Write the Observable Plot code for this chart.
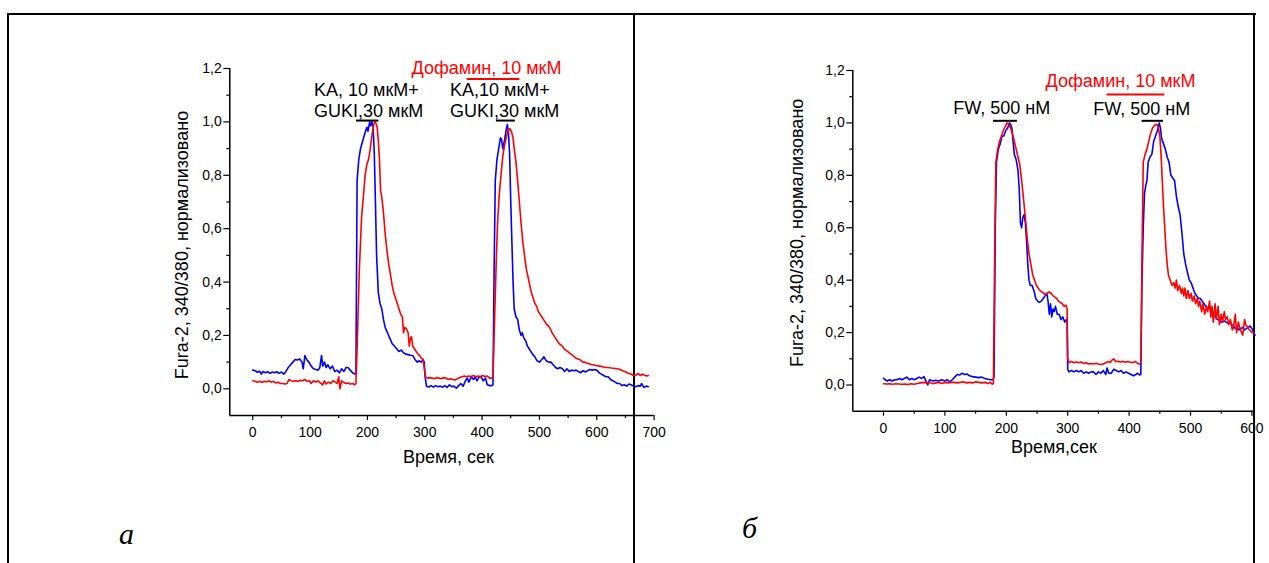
<!DOCTYPE html>
<html><head><meta charset="utf-8">
<script src="https://cdn.jsdelivr.net/npm/d3@7"></script>
<script src="https://cdn.jsdelivr.net/npm/@observablehq/plot@0.6"></script>
<style>
body{margin:0;background:#fff}
#root{position:relative;width:1269px;height:563px;overflow:hidden;background:#fff;font-family:"Liberation Sans",Arial,sans-serif}
.ln{position:absolute;background:#000}
.plot{position:absolute}
.lett{position:absolute;font-family:"Liberation Serif","Times New Roman",serif;font-style:italic;font-size:30px;line-height:1}
</style></head><body><div id="root"></div>
<script>
// ---- Data: panel "а" (KA + GUKI) ----
const aBlue = [[0,0.07],[4,0.068],[8,0.062],[12,0.066],[15,0.055],[18,0.065],[22,0.06],[26,0.064],[30,0.058],[34,0.063],[38,0.06],[42,0.064],[46,0.058],[50,0.063],[54,0.055],[58,0.065],[62,0.08],[66,0.09],[70,0.1],[74,0.11],[78,0.108],[82,0.112],[86,0.1],[88,0.075],[91,0.125],[94,0.11],[98,0.1],[102,0.085],[106,0.075],[110,0.072],[114,0.07],[117,0.08],[120,0.125],[122,0.085],[125,0.1],[128,0.08],[131,0.09],[135,0.075],[139,0.085],[143,0.065],[147,0.07],[151,0.06],[155,0.075],[159,0.065],[163,0.08],[166,0.08],[170,0.07],[174,0.06],[178,0.055],[180,0.06],[182,0.78],[185,0.86],[188,0.9],[192,0.93],[196,0.96],[199,0.98],[201,0.965],[204,1.0],[206,0.985],[208,1.0],[210,0.98],[212,0.88],[214,0.7],[216,0.5],[219,0.36],[222,0.32],[225,0.3],[228,0.26],[231,0.23],[235,0.21],[239,0.19],[243,0.17],[247,0.16],[251,0.15],[255,0.14],[259,0.145],[263,0.135],[267,0.13],[271,0.128],[275,0.126],[279,0.125],[283,0.11],[287,0.1],[290,0.105],[294,0.1],[297,0.11],[299,0.1],[301,0.04],[303,0.01],[307,0.007],[311,0.012],[315,0.006],[319,0.012],[323,0.008],[327,0.01],[331,0.006],[335,0.012],[339,0.005],[343,0.015],[347,0.008],[351,0.01],[355,0.002],[359,0.012],[363,0.02],[367,0.01],[371,0.03],[374,0.04],[377,0.025],[381,0.045],[385,0.035],[388,0.045],[391,0.03],[395,0.044],[398,0.045],[402,0.03],[406,0.04],[409,0.015],[413,0.012],[417,0.012],[419,0.015],[421,0.45],[423,0.78],[426,0.86],[429,0.9],[432,0.94],[434,0.935],[436,0.9],[439,0.93],[442,0.97],[444,0.99],[446,0.96],[448,0.88],[450,0.7],[452,0.55],[454,0.4],[456,0.3],[459,0.27],[462,0.26],[465,0.22],[468,0.2],[470,0.21],[473,0.19],[476,0.18],[479,0.16],[482,0.15],[485,0.14],[488,0.13],[492,0.12],[496,0.105],[500,0.1],[504,0.11],[508,0.12],[512,0.105],[516,0.1],[520,0.1],[524,0.09],[528,0.08],[532,0.075],[536,0.08],[540,0.075],[544,0.065],[548,0.075],[552,0.065],[556,0.07],[560,0.068],[564,0.07],[568,0.065],[572,0.06],[576,0.068],[580,0.063],[584,0.068],[588,0.072],[592,0.07],[596,0.072],[600,0.07],[604,0.06],[608,0.055],[612,0.05],[616,0.045],[620,0.045],[624,0.035],[628,0.03],[632,0.025],[636,0.02],[640,0.02],[644,0.012],[648,0.015],[652,0.01],[656,0.018],[660,0.015],[664,0.01],[668,0.008],[672,0.012],[676,0.01],[678,0.02],[682,0.005],[686,0.01],[690,0.008]];
const aRed = [[0,0.03],[4,0.028],[8,0.025],[12,0.028],[16,0.024],[20,0.028],[24,0.026],[28,0.03],[32,0.025],[36,0.028],[40,0.022],[44,0.025],[48,0.02],[52,0.02],[56,0.018],[60,0.02],[63,0.035],[67,0.03],[71,0.028],[75,0.03],[79,0.028],[83,0.032],[87,0.03],[91,0.035],[95,0.028],[99,0.03],[102,0.02],[106,0.03],[110,0.025],[114,0.03],[118,0.022],[122,0.015],[125,0.03],[128,0.018],[132,0.025],[136,0.02],[140,0.03],[144,0.025],[147,0.02],[150,0.045],[152,0.0],[155,0.03],[158,0.025],[162,0.02],[166,0.022],[170,0.018],[174,0.02],[178,0.015],[180,0.02],[182,0.15],[184,0.3],[186,0.45],[188,0.55],[190,0.65],[193,0.72],[196,0.8],[199,0.84],[202,0.86],[205,0.9],[208,0.95],[211,0.99],[213,1.0],[215,0.995],[217,0.98],[219,0.93],[221,0.86],[223,0.74],[225,0.72],[228,0.66],[231,0.58],[234,0.52],[237,0.47],[240,0.43],[243,0.39],[246,0.36],[249,0.34],[252,0.32],[255,0.3],[258,0.28],[261,0.27],[263,0.21],[265,0.23],[268,0.225],[271,0.21],[273,0.16],[275,0.19],[277,0.195],[279,0.16],[282,0.15],[285,0.14],[288,0.13],[291,0.125],[294,0.115],[297,0.11],[299,0.08],[301,0.045],[305,0.04],[309,0.042],[313,0.04],[317,0.038],[321,0.042],[325,0.04],[329,0.038],[333,0.042],[337,0.04],[341,0.035],[345,0.038],[349,0.035],[353,0.033],[357,0.038],[361,0.042],[365,0.045],[369,0.048],[373,0.045],[377,0.048],[381,0.046],[385,0.05],[389,0.045],[393,0.048],[397,0.045],[401,0.05],[405,0.046],[409,0.048],[413,0.04],[417,0.04],[419,0.04],[421,0.2],[423,0.35],[425,0.5],[427,0.62],[430,0.73],[433,0.8],[436,0.87],[439,0.91],[442,0.94],[445,0.965],[448,0.975],[451,0.965],[454,0.94],[456,0.9],[459,0.85],[462,0.78],[465,0.7],[468,0.62],[471,0.55],[474,0.5],[477,0.45],[480,0.42],[483,0.39],[486,0.36],[489,0.34],[492,0.32],[495,0.31],[498,0.29],[501,0.28],[504,0.27],[507,0.26],[510,0.25],[513,0.24],[516,0.235],[519,0.225],[522,0.21],[525,0.2],[528,0.19],[531,0.18],[534,0.17],[537,0.165],[540,0.16],[543,0.15],[546,0.145],[549,0.14],[552,0.135],[555,0.13],[558,0.125],[561,0.12],[564,0.115],[567,0.112],[570,0.11],[573,0.105],[576,0.1],[579,0.1],[582,0.097],[585,0.095],[588,0.093],[591,0.09],[594,0.09],[597,0.088],[600,0.087],[605,0.085],[610,0.083],[615,0.08],[620,0.08],[625,0.078],[630,0.077],[635,0.075],[640,0.073],[645,0.068],[650,0.064],[655,0.058],[660,0.055],[664,0.05],[668,0.05],[672,0.058],[676,0.05],[680,0.055],[684,0.05],[688,0.048],[690,0.05]];

// ---- Data: panel "б" (FW) ----
const bBlue = [[0,0.025],[3,0.02],[6,0.015],[10,0.02],[14,0.015],[18,0.02],[22,0.02],[26,0.025],[30,0.02],[34,0.025],[38,0.03],[42,0.02],[46,0.025],[50,0.02],[54,0.025],[58,0.03],[62,0.025],[66,0.032],[70,0.01],[72,0.0],[75,0.02],[80,0.015],[85,0.018],[90,0.015],[95,0.02],[100,0.015],[104,0.02],[108,0.012],[112,0.02],[116,0.03],[120,0.04],[124,0.038],[128,0.045],[132,0.04],[136,0.042],[140,0.035],[145,0.032],[150,0.03],[155,0.028],[160,0.03],[165,0.025],[170,0.022],[175,0.02],[178,0.02],[180,0.03],[182,0.6],[184,0.85],[187,0.9],[190,0.92],[193,0.95],[196,0.95],[199,0.97],[202,0.98],[205,1.0],[207,0.995],[209,0.98],[211,0.93],[213,0.88],[216,0.86],[219,0.82],[221,0.75],[223,0.62],[225,0.6],[227,0.64],[229,0.65],[231,0.62],[233,0.55],[235,0.46],[237,0.4],[239,0.38],[242,0.38],[245,0.36],[248,0.33],[251,0.32],[254,0.315],[257,0.32],[260,0.33],[263,0.34],[266,0.35],[268,0.32],[270,0.27],[272,0.31],[274,0.26],[276,0.29],[278,0.28],[280,0.3],[283,0.27],[286,0.27],[289,0.25],[292,0.26],[295,0.24],[298,0.25],[299,0.24],[300,0.06],[302,0.05],[306,0.055],[310,0.05],[314,0.055],[318,0.05],[322,0.055],[326,0.045],[330,0.05],[334,0.045],[338,0.05],[342,0.05],[346,0.04],[350,0.05],[354,0.045],[358,0.055],[362,0.04],[364,0.065],[367,0.045],[371,0.045],[375,0.06],[379,0.055],[383,0.05],[387,0.055],[391,0.045],[395,0.05],[399,0.045],[403,0.04],[407,0.035],[411,0.04],[414,0.045],[417,0.038],[419,0.04],[421,0.4],[423,0.6],[425,0.73],[427,0.76],[429,0.78],[431,0.85],[434,0.87],[437,0.88],[440,0.93],[443,0.95],[446,0.97],[449,1.0],[451,0.98],[453,0.94],[456,0.92],[459,0.9],[462,0.87],[465,0.85],[468,0.8],[471,0.79],[474,0.78],[477,0.72],[480,0.68],[483,0.65],[486,0.58],[489,0.5],[492,0.46],[495,0.43],[498,0.4],[501,0.39],[504,0.37],[507,0.35],[510,0.34],[513,0.33],[516,0.33],[519,0.32],[522,0.31],[525,0.3],[528,0.29],[531,0.3],[534,0.28],[537,0.27],[540,0.265],[543,0.25],[546,0.25],[549,0.24],[552,0.24],[555,0.245],[558,0.24],[561,0.235],[564,0.24],[567,0.23],[570,0.225],[573,0.215],[576,0.22],[579,0.21],[582,0.215],[585,0.22],[588,0.21],[591,0.215],[594,0.22],[597,0.225],[600,0.215],[603,0.2],[605,0.19]];
const bRed = [[0,0.005],[5,0.004],[10,0.005],[15,0.003],[20,0.005],[25,0.004],[30,0.003],[35,0.004],[40,0.002],[45,0.005],[50,0.003],[55,0.006],[60,0.008],[65,0.01],[70,0.008],[75,0.01],[80,0.005],[85,0.008],[90,0.01],[95,0.006],[100,0.01],[105,0.008],[110,0.01],[115,0.01],[120,0.008],[125,0.01],[130,0.012],[135,0.008],[140,0.01],[145,0.008],[150,0.012],[155,0.01],[160,0.008],[165,0.01],[170,0.006],[174,0.01],[177,0.003],[179,0.006],[181,0.5],[183,0.85],[186,0.9],[189,0.93],[192,0.95],[195,0.97],[198,0.985],[201,1.0],[204,0.995],[207,0.98],[210,0.96],[213,0.93],[216,0.9],[219,0.87],[222,0.84],[225,0.78],[228,0.71],[231,0.64],[234,0.56],[237,0.5],[240,0.46],[243,0.42],[246,0.4],[249,0.38],[252,0.37],[255,0.36],[258,0.355],[261,0.35],[264,0.345],[267,0.35],[270,0.355],[273,0.35],[276,0.34],[279,0.335],[282,0.33],[285,0.32],[288,0.315],[291,0.31],[294,0.3],[297,0.305],[299,0.29],[300,0.1],[302,0.085],[306,0.09],[310,0.085],[314,0.088],[318,0.085],[322,0.088],[326,0.082],[330,0.085],[334,0.08],[338,0.082],[342,0.08],[346,0.083],[350,0.08],[354,0.078],[358,0.08],[362,0.085],[366,0.09],[369,0.085],[372,0.095],[375,0.1],[378,0.09],[382,0.09],[386,0.088],[390,0.09],[394,0.087],[398,0.09],[402,0.087],[406,0.085],[410,0.09],[414,0.082],[417,0.08],[419,0.085],[421,0.5],[423,0.85],[426,0.88],[429,0.9],[432,0.93],[435,0.96],[438,0.98],[441,0.99],[444,0.995],[447,0.99],[450,0.95],[452,0.88],[454,0.78],[456,0.68],[458,0.6],[460,0.52],[462,0.46],[464,0.42],[467,0.4],[470,0.38],[473,0.39],[475,0.37],[477,0.4],[479,0.36],[482,0.38],[485,0.35],[487,0.37],[489,0.34],[491,0.37],[493,0.33],[496,0.36],[498,0.33],[501,0.35],[503,0.32],[506,0.34],[508,0.31],[511,0.33],[513,0.3],[515,0.32],[518,0.28],[520,0.31],[523,0.27],[526,0.3],[528,0.28],[531,0.32],[533,0.26],[535,0.3],[537,0.24],[540,0.31],[542,0.25],[545,0.3],[547,0.23],[550,0.27],[552,0.24],[555,0.28],[557,0.25],[560,0.26],[562,0.23],[565,0.25],[568,0.21],[570,0.22],[573,0.27],[575,0.2],[578,0.24],[580,0.22],[583,0.2],[585,0.19],[588,0.25],[590,0.23],[593,0.22],[596,0.21],[600,0.2],[603,0.2]];

// ---- Ticks and labels ----
const xTicksA = [0,100,200,300,400,500,600,700];
const xMinorA = [50,150,250,350,450,550,650];
const xTicksB = [0,100,200,300,400,500,600];
const xMinorB = [50,150,250,350,450,550];
const yTicks = [0,0.2,0.4,0.6,0.8,1.0,1.2];
const yMinor = [0.1,0.3,0.5,0.7,0.9,1.1];
const yLabel = "Fura-2, 340/380, нормализовано";
const xLabelA = "Время, сек";
const xLabelB = "Время,сек";
const textsA = ["KA, 10 мкМ+","GUKI,30 мкМ","KA,10 мкМ+","GUKI,30 мкМ","Дофамин, 10 мкМ"];
const textsB = ["FW, 500 нМ","FW, 500 нМ","Дофамин, 10 мкМ"];
// stimulus intervals (s)
const stimA = [[181,220],[425,458]];
const dopaA = [374,466];
const stimB = [[179,218],[421,456]];
const dopaB = [364,458];

const root = document.getElementById("root");
function line(l,t,w,h){const d=document.createElement("div");d.className="ln";Object.assign(d.style,{left:l+"px",top:t+"px",width:w+"px",height:h+"px"});root.appendChild(d);}
line(7,13,1249,2); line(7,13,2,560); line(633,13,2,560); line(1253,13,2,560);

const fmt = d => d.toFixed(1).replace(".", ",");
const FONT = "'Liberation Sans', Arial, sans-serif";

function panel(cfg){
  const txt = cfg.textPos.map((p,i)=>({x:p[0], y:p[1], s:cfg.texts[i], c:p[2]}));
  const p = Plot.plot({
    width: cfg.width, height: cfg.height,
    marginLeft: cfg.ml, marginRight: cfg.mr, marginTop: cfg.mt, marginBottom: cfg.mb,
    x: {domain: cfg.xDomain}, y: {domain: [-0.1, 1.2]},
    style: {fontFamily: FONT, fontSize: "14px", color: "#000", background: "transparent", overflow: "visible"},
    marks: [
      Plot.axisX({ticks: cfg.xTicks, tickSize: 5, tickPadding: 7, tickFormat: d => String(d), label: null, strokeWidth: 1.2}),
      Plot.axisX({ticks: cfg.xMinor, tickSize: 3, tickFormat: () => "", label: null, strokeWidth: 1.2}),
      Plot.axisY({ticks: yTicks, tickSize: 6, tickPadding: 2, tickFormat: fmt, label: null, strokeWidth: 1.2}),
      Plot.axisY({ticks: yMinor, tickSize: 3, tickFormat: () => "", label: null, strokeWidth: 1.2}),
      Plot.ruleX([cfg.xDomain[0]], {stroke: "#000", strokeWidth: 1.5}),
      Plot.ruleY([-0.1], {stroke: "#000", strokeWidth: 1.5}),
      Plot.line(cfg.blue, {x: d => d[0], y: d => d[1], stroke: "#0000ff", strokeWidth: 1.6, strokeLinejoin: "round"}),
      Plot.line(cfg.red, {x: d => d[0], y: d => d[1], stroke: "#ff0000", strokeWidth: 1.6, strokeLinejoin: "round"}),
      Plot.ruleY(cfg.stim, {x1: d => d[0], x2: d => d[1], y: cfg.stimY, stroke: "#000", strokeWidth: 2}),
      Plot.ruleY([cfg.dopa], {x1: d => d[0], x2: d => d[1], y: cfg.dopaY, stroke: "#ff0000", strokeWidth: 2}),
      Plot.text(txt, {x: "x", y: "y", text: "s", fill: "c", textAnchor: "start", fontSize: 18}),
      Plot.text([cfg.xLabel], {text: d => d, frameAnchor: "bottom", textAnchor: "middle", dx: cfg.xlDx, dy: cfg.xlDy, fontSize: 18, lineAnchor: "middle"}),
      Plot.text([yLabel], {text: d => d, frameAnchor: "left", textAnchor: "middle", rotate: -90, dx: cfg.ylDx, dy: cfg.ylDy, fontSize: 18, lineAnchor: "middle"})
    ]
  });
  p.classList.add("plot");
  p.style.left = cfg.left + "px"; p.style.top = cfg.top + "px";
  root.appendChild(p);
}

panel({
  left: 140, top: 40, width: 540, height: 440, ml: 89.3, mr: 26.4, mt: 28, mb: 65,
  xDomain: [-40, 700], xTicks: xTicksA, xMinor: xMinorA,
  blue: aBlue, red: aRed, stim: stimA, stimY: 1.005, dopa: dopaA, dopaY: 1.161,
  texts: textsA,
  textPos: [[107,1.12,"#000"],[107,1.04,"#000"],[344,1.12,"#000"],[344,1.04,"#000"],[277,1.202,"#ff0000"]],
  xLabel: xLabelA, xlDx: 6.5, xlDy: 42, ylDx: -47.5, ylDy: 3
});
panel({
  left: 760, top: 40, width: 509, height: 440, ml: 92.3, mr: 14.5, mt: 30, mb: 69.3,
  xDomain: [-50, 605], xTicks: xTicksB, xMinor: xMinorB,
  blue: bBlue, red: bRed, stim: stimB, stimY: 1.008, dopa: dopaB, dopaY: 1.108,
  texts: textsB,
  textPos: [[113.5,1.057,"#000"],[341.5,1.052,"#000"],[264,1.159,"#ff0000"]],
  xLabel: xLabelB, xlDx: 0, xlDy: 36.3, ylDx: -55.5, ylDy: -8
});

function letter(s,l,t){const d=document.createElement("div");d.className="lett";d.textContent=s;d.style.left=l+"px";d.style.top=t+"px";root.appendChild(d);}
letter("а",119,519);
letter("б",742,513);
</script>
</body></html>
